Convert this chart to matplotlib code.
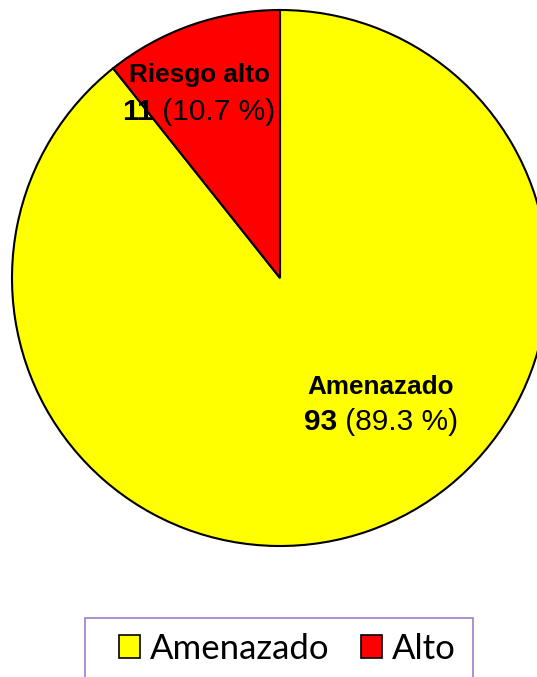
import matplotlib.pyplot as plt
from matplotlib.patches import Rectangle, Patch

# datos
categorias = ['Amenazado', 'Alto']
etiquetas = ['Amenazado', 'Riesgo alto']
conteos = [93, 11]
porcentajes = [89.3, 10.7]
colores = ['#FFFF00', '#FF0000']

W, H = 537, 677
fig = plt.figure(figsize=(W / 100, H / 100), dpi=100)

# centro del pastel (px desde arriba) y radio
cx, cy, r = 280, 278, 268
ax = fig.add_axes([(cx - r) / W, (H - cy - r) / H, 2 * r / W, 2 * r / H])
ax.pie(porcentajes, colors=colores, startangle=90, counterclock=False,
       wedgeprops=dict(edgecolor='black', linewidth=1.5))
ax.set_xlim(-1, 1)
ax.set_ylim(-1, 1)
ax.set_aspect('equal')
ax.axis('off')

fig.canvas.draw()
renderer = fig.canvas.get_renderer()

# posiciones de las etiquetas (px): x centro, y linea 1, y linea 2
pos = [(381, 387, 422), (199, 75, 112)]
fuente = ['Liberation Sans', 'DejaVu Sans']
fs1, fs2 = 18.8, 21.5
for i in range(len(categorias)):
    x, y1, y2 = pos[i]
    fig.text(x / W, 1 - y1 / H, etiquetas[i], ha='center', va='center',
             fontsize=fs1, fontweight='bold', family=fuente)
    t1 = fig.text(0, 1 - y2 / H, str(conteos[i]), ha='left', va='center',
                  fontsize=fs2, fontweight='bold', family=fuente)
    t2 = fig.text(0, 1 - y2 / H, ' (%.1f %%)' % porcentajes[i], ha='left', va='center',
                  fontsize=fs2, family=fuente)
    w1 = t1.get_window_extent(renderer).width
    w2 = t2.get_window_extent(renderer).width
    x0 = x - (w1 + w2) / 2
    t1.set_x(x0 / W)
    t2.set_x((x0 + w1) / W)

# leyenda (el marco sigue por debajo del borde de la figura)
marco = Rectangle((85 / W, -0.05), (473 - 85) / W, 1 - 618 / H + 0.05,
                  transform=fig.transFigure,
                  facecolor='none', edgecolor='#9B7FC6', linewidth=1.2)
fig.patches.append(marco)
handles = [Patch(facecolor=c, edgecolor='black', linewidth=1.2) for c in colores]
fig.legend(handles, categorias, loc='center left', bbox_to_anchor=(119 / W, 1 - 649 / H),
           ncol=2, frameon=False, prop={'family': ['Lato', 'DejaVu Sans'], 'size': 25},
           handlelength=0.6, handleheight=0.63, handletextpad=0.29, columnspacing=0.9,
           borderaxespad=0, borderpad=0)

fig.savefig('out.png', dpi=100)
